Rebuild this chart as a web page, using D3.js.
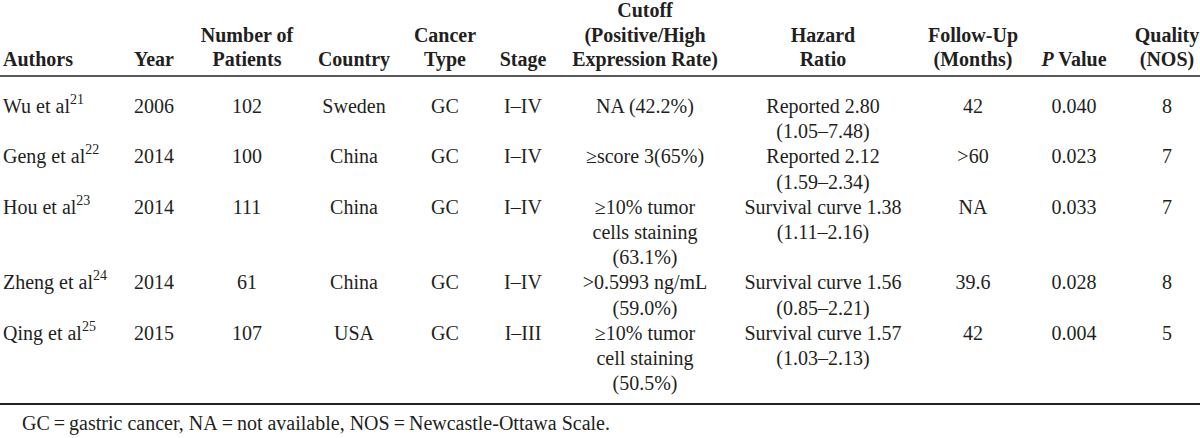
<!DOCTYPE html>
<html>
<head>
<meta charset="utf-8">
<script src="https://cdn.jsdelivr.net/npm/d3@7"></script>
<style>
  html, body { margin: 0; padding: 0; background: #fff; }
  svg { display: block; }
  text { font-family: "Liberation Serif", "Times New Roman", serif; fill: #231f20; }
</style>
</head>
<body>
<svg id="chart" width="1200" height="438"></svg>
<script>
// ---- data ----
const columns = ["Authors", "Year", "Patients", "Country", "Cancer", "Stage", "Cutoff", "Hazard", "FollowUp", "PValue", "Quality"];
const headerLabels = [
  ["Authors"],
  ["Year"],
  ["Number of", "Patients"],
  ["Country"],
  ["Cancer", "Type"],
  ["Stage"],
  ["Cutoff", "(Positive/High", "Expression Rate)"],
  ["Hazard", "Ratio"],
  ["Follow-Up", "(Months)"],
  ["P| Value"],
  ["Quality", "(NOS)"]
];
const authors = ["Wu et al", "Geng et al", "Hou et al", "Zheng et al", "Qing et al"];
const refs = ["21", "22", "23", "24", "25"];
const years = ["2006", "2014", "2014", "2014", "2015"];
const patients = ["102", "100", "111", "61", "107"];
const countries = ["Sweden", "China", "China", "China", "USA"];
const cancerTypes = ["GC", "GC", "GC", "GC", "GC"];
const stages = ["I–IV", "I–IV", "I–IV", "I–IV", "I–III"];
const cutoffs = [
  ["NA (42.2%)"],
  ["≥score 3(65%)"],
  ["≥10% tumor", "cells staining", "(63.1%)"],
  [">0.5993 ng/mL", "(59.0%)"],
  ["≥10% tumor", "cell staining", "(50.5%)"]
];
const hazards = [
  ["Reported 2.80", "(1.05–7.48)"],
  ["Reported 2.12", "(1.59–2.34)"],
  ["Survival curve 1.38", "(1.11–2.16)"],
  ["Survival curve 1.56", "(0.85–2.21)"],
  ["Survival curve 1.57", "(1.03–2.13)"]
];
const followUps = ["42", ">60", "NA", "39.6", "42"];
const pValues = ["0.040", "0.023", "0.033", "0.028", "0.004"];
const quality = ["8", "7", "7", "8", "5"];
const footnote = "GC\u2009=\u2009gastric cancer, NA\u2009=\u2009not available, NOS\u2009=\u2009Newcastle-Ottawa Scale.";

// ---- layout ----
const svg = d3.select("#chart");
const W = 1200;
const fontSize = 20;

const colX = d3.scaleOrdinal()
  .domain(columns)
  .range([3, 154, 247, 354, 445, 523, 645, 823, 973, 1074, 1167]);
const colAnchor = c => c === "Authors" ? "start" : "middle";

// header lines (aligned to bottom)
const headerY = d3.scaleLinear().domain([0, 2]).range([17, 66]);

// body rows
const rows = authors.map((a, i) => {
  const cells = {
    Authors: [a],
    Year: [years[i]],
    Patients: [patients[i]],
    Country: [countries[i]],
    Cancer: [cancerTypes[i]],
    Stage: [stages[i]],
    Cutoff: cutoffs[i],
    Hazard: hazards[i],
    FollowUp: [followUps[i]],
    PValue: [pValues[i]],
    Quality: [quality[i]]
  };
  const nLines = d3.max(Object.values(cells), c => c.length);
  return { i, cells, nLines };
});
const starts = [0, ...d3.cumsum(rows, r => r.nLines)];
rows.forEach((r, k) => r.start = starts[k]);
const lineY = d3.scaleLinear().domain([0, 1]).range([113, 138.2]);

// header rule and bottom rule
svg.append("line")
  .attr("x1", 0).attr("x2", W)
  .attr("y1", 76).attr("y2", 76)
  .attr("stroke", "#222").attr("stroke-width", 1.6);
svg.append("line")
  .attr("x1", 0).attr("x2", W)
  .attr("y1", 404).attr("y2", 404)
  .attr("stroke", "#222").attr("stroke-width", 2);

// header
const hdr = svg.append("g").attr("class", "header");
columns.forEach((c, ci) => {
  const lines = headerLabels[ci];
  const off = 3 - lines.length;
  lines.forEach((ln, li) => {
    const t = hdr.append("text")
      .attr("x", colX(c))
      .attr("y", headerY(off + li))
      .attr("text-anchor", colAnchor(c))
      .attr("font-size", fontSize)
      .attr("font-weight", "bold");
    if (ln.includes("|")) {
      const [it, rest] = ln.split("|");
      t.append("tspan").attr("font-style", "italic").text(it);
      t.append("tspan").text(rest);
    } else {
      t.text(ln);
    }
  });
});

// body
const body = svg.append("g").attr("class", "body");
rows.forEach(r => {
  columns.forEach(c => {
    r.cells[c].forEach((ln, li) => {
      const t = body.append("text")
        .attr("x", colX(c))
        .attr("y", lineY(r.start + li))
        .attr("text-anchor", colAnchor(c))
        .attr("font-size", fontSize);
      t.append("tspan").text(ln);
      if (c === "Authors") {
        t.append("tspan")
          .attr("font-size", 14)
          .attr("dy", -9)
          .text(refs[r.i]);
      }
    });
  });
});

// footnote
svg.append("text")
  .attr("x", 22)
  .attr("y", 430)
  .attr("font-size", fontSize)
  .text(footnote);
</script>
</body>
</html>
